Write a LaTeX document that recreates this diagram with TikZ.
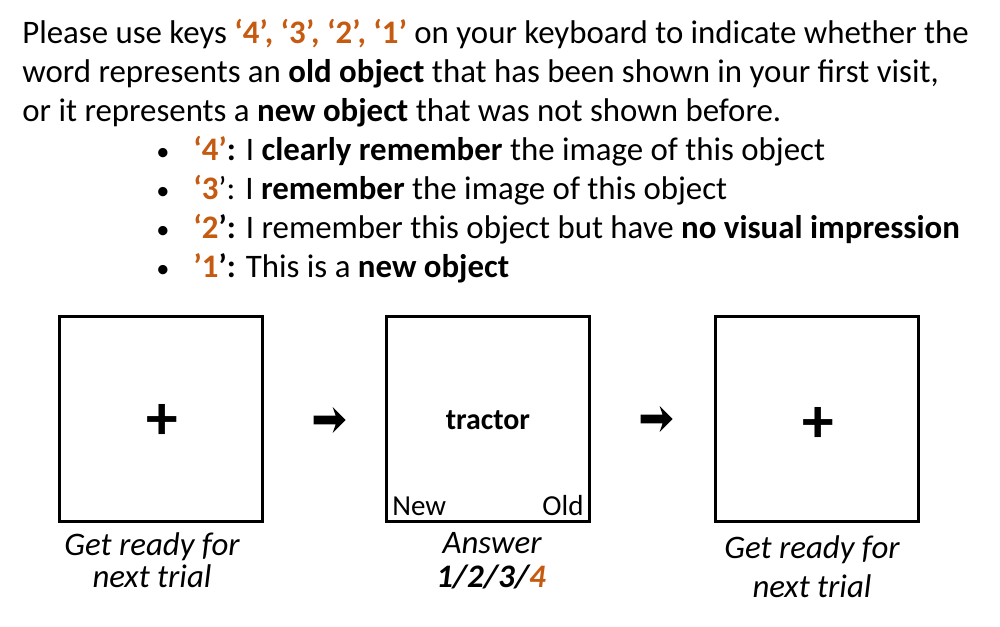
\documentclass[tikz,border=0pt]{standalone}
\usepackage{fontspec}
\setmainfont{Carlito}
\usepackage{xcolor}
\usetikzlibrary{positioning, calc, shapes.arrows}
\definecolor{myorange}{RGB}{197, 90, 17}
\newcommand{\keyno}[1]{\textcolor{myorange}{\textbf{#1}}}

\begin{document}
\begin{tikzpicture}[x=0.02cm, y=-0.02cm,
  txt/.style={anchor=base west, inner sep=0pt, font=\fontsize{18.7}{22}\selectfont},
  screen/.style={draw, line width=1.7pt, minimum width=4.06cm, minimum height=4.1cm, inner sep=0pt},
  caption/.style={anchor=base, inner sep=0pt, font=\fontsize{18.7}{22}\selectfont\itshape},
  corner/.style={inner sep=0pt, font=\fontsize{16.5}{16}\selectfont},
  nextarrow/.style={single arrow, fill=black, inner sep=0.08cm, minimum height=0.64cm,
    minimum width=0.52cm, single arrow head extend=0.17cm, single arrow head indent=0.06cm},
  fixation/.style={inner sep=0pt, font=\fontsize{36}{36}\selectfont\bfseries}]
\useasboundingbox (0,0) rectangle (1000,626);

\node[txt] (line1) at (22,43) {Please use keys \keyno{‘4’, ‘3’, ‘2’, ‘1’} on your keyboard to indicate whether the};
\node[txt] (line2) at (22,82) {word represents an \textbf{old object} that has been shown in your first visit,};
\node[txt] (line3) at (22,121) {or it represents a \textbf{new object} that was not shown before.};

\node[txt, font=\fontsize{15}{22}\selectfont] (dot1) at (156,160) {•};
\node[txt] (item1) at (193,160) {\keyno{‘4’}\textbf{:} I \textbf{clearly remember} the image of this object};
\node[txt, font=\fontsize{15}{22}\selectfont] (dot2) at (156,199) {•};
\node[txt] (item2) at (193,199) {\keyno{‘3}’: I \textbf{remember} the image of this object};
\node[txt, font=\fontsize{15}{22}\selectfont] (dot3) at (156,238) {•};
\node[txt] (item3) at (193,238) {\keyno{‘2}\textbf{’:} I remember this object but have \textbf{no visual impression}};
\node[txt, font=\fontsize{15}{22}\selectfont] (dot4) at (156,277) {•};
\node[txt] (item4) at (193,277) {\keyno{’1}\textbf{’:} This is a \textbf{new object}};

\node[screen] (scr1) at (161,419) {};
\node[screen, right=2.42cm of scr1] (scr2) {};
\node[screen, right=2.46cm of scr2] (scr3) {};

\node[fixation] (cross1) at ($(scr1)+(1,3)$) {+};
\node[fixation] (cross3) at ($(scr3)+(1,6)$) {+};

\node[corner, font=\fontsize{17}{16}\selectfont\bfseries] (word) at ($(scr2)+(0,1)$) {tractor};
\node[corner, anchor=base west] (new) at ($(scr2.south west)+(7,-7)$) {New};
\node[corner, anchor=base east] (old) at ($(scr2.south east)+(-7,-7)$) {Old};

\node[nextarrow] (arr1) at ($(scr1.east)!0.5!(scr2.west)+(3,1)$) {};
\node[nextarrow] (arr2) at ($(scr2.east)!0.5!(scr3.west)+(2,0)$) {};

\node[caption] (cap1a) at (152,555) {Get ready for};
\node[caption] (cap1b) at (152,587) {next trial};
\node[caption] (cap2a) at (492,553) {Answer};
\node[caption, font=\fontsize{18.7}{22}\selectfont\bfseries\itshape] (cap2b) at (491,587) {1/2/3/\textcolor{myorange}{4}};
\node[caption] (cap3a) at (812,558) {Get ready for};
\node[caption] (cap3b) at (812,597) {next trial};

\end{tikzpicture}
\end{document}
